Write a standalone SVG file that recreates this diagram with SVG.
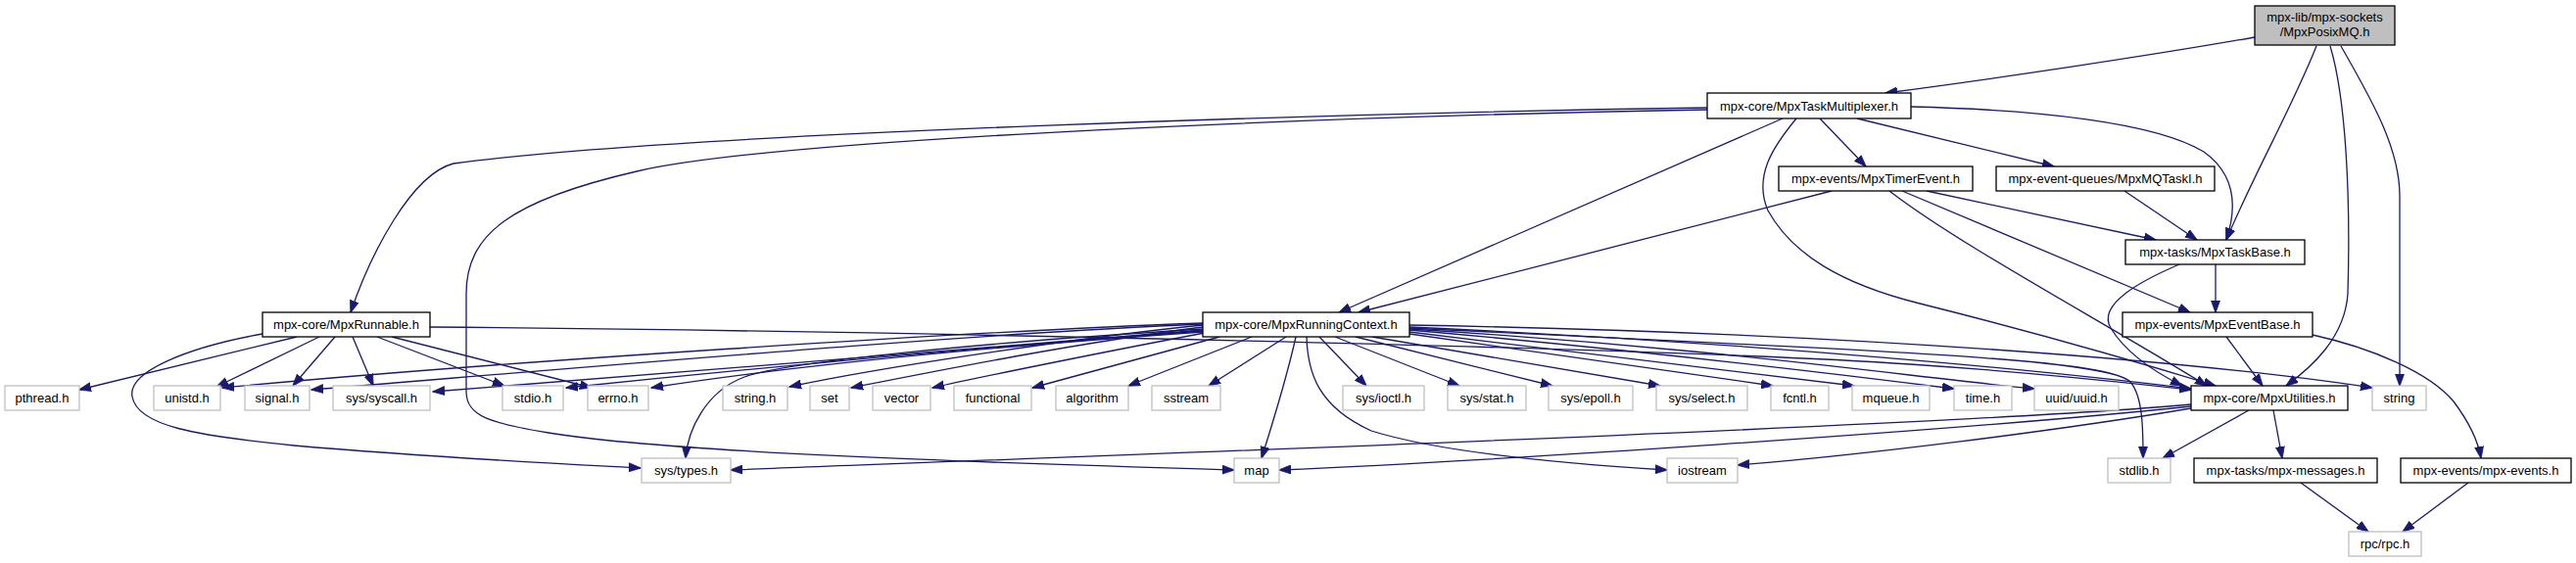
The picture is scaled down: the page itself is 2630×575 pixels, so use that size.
<svg xmlns="http://www.w3.org/2000/svg" width="2630" height="575" viewBox="0 0 2630 575">
<style>
text{font-family:"Liberation Sans",Arial,sans-serif;font-size:13px;fill:#000;text-anchor:middle}
.n rect{fill:#fff;stroke:#000;stroke-width:1.3}
.x rect{fill:#fff;stroke:#bfbfbf;stroke-width:1.3}
.r rect{fill:#bfbfbf;stroke:#000;stroke-width:1.3}
#edges path{fill:none;stroke:#191970;stroke-width:1.3;marker-end:url(#ah)}
</style>
<defs>
<marker id="ah" markerUnits="userSpaceOnUse" markerWidth="13" markerHeight="10" viewBox="0 0 13 10" refX="12" refY="5" orient="auto">
<path d="M0,0.5 L12.5,5 L0,9.5 z" fill="#191970" stroke="#191970" stroke-width="0.8"/>
</marker>
</defs>
<rect width="2630" height="575" fill="#fff"/>
<g id="edges">
<!-- root -->
<path d="M2302,38 C2200,56 2040,80 1925,95"/>
<path d="M2365,47 C2340,110 2300,180 2273,245"/>
<path d="M2379,47 C2395,100 2400,200 2397,300 C2394,345 2360,375 2334,394"/>
<path d="M2390,47 C2420,100 2450,150 2450,200 L2450,394"/>
<!-- task multiplexer -->
<path d="M1743,110 C1400,115 700,135 463,167 C420,178 378,260 358,319"/>
<path d="M1743,112 C1400,118 800,140 650,175 C520,205 476,240 476,300 L476,400 C476,425 500,432 560,442 C700,465 1100,475 1260,480"/>
<path d="M1820,121 L1367,319"/>
<path d="M1858,121 L1905,170"/>
<path d="M1896,121 L2097,170"/>
<path d="M1951,109 C2080,112 2200,125 2250,155 C2285,180 2283,215 2273,245"/>
<path d="M1834,121 C1810,150 1790,180 1805,215 C1830,260 1880,290 1960,310 C2100,345 2200,375 2262,394"/>
<!-- timer event -->
<path d="M1870,195 L1387,319"/>
<path d="M1967,195 L2201,245"/>
<path d="M1942,195 L2236,319"/>
<path d="M1929,195 C2000,250 2150,330 2253,394"/>
<!-- mq task -->
<path d="M2169,195 L2243,245"/>
<!-- task base -->
<path d="M2262,270 L2262,319"/>
<path d="M2225,270 C2190,285 2140,310 2155,335 C2170,360 2200,380 2228,394"/>
<!-- event base -->
<path d="M2273,344 L2310,394"/>
<path d="M2361,342 C2420,355 2480,380 2505,410 C2520,430 2530,450 2533,468"/>
<!-- utilities -->
<path d="M2296,419 L2208,468"/>
<path d="M2321,419 L2330,468"/>
<path d="M2237,413 C2000,435 1000,470 746,480"/>
<path d="M2237,415 C2000,440 1500,472 1306,480"/>
<path d="M2237,417 C2100,440 1900,465 1774,475"/>
<!-- messages/events -->
<path d="M2349,493 L2418,543"/>
<path d="M2520,493 L2453,543"/>
<!-- runnable -->
<path d="M303,344 L81,398"/>
<path d="M326,344 L221,395"/>
<path d="M342,344 L299,394"/>
<path d="M360,344 L381,394"/>
<path d="M385,344 L515,394"/>
<path d="M400,344 L604,396"/>
<path d="M268,341 C190,355 130,380 135,405 C140,435 200,445 300,455 C450,468 600,475 654,478"/>
<path d="M439,334 C900,338 1700,355 1950,372 C2100,382 2180,392 2237,398"/>
<!-- running context -->
<path d="M1228,330 C1000,338 500,370 227,396"/>
<path d="M1228,331 C1000,340 600,375 318,398"/>
<path d="M1228,337 C1000,355 700,380 442,400"/>
<path d="M1228,338 C1000,355 750,378 578,396"/>
<path d="M1228,339 C1000,355 800,375 665,396"/>
<path d="M1228,332 C1100,345 900,375 806,395"/>
<path d="M1228,334 C1100,350 950,380 869,396"/>
<path d="M1230,340 C1150,355 1000,385 952,396"/>
<path d="M1245,344 L1054,396"/>
<path d="M1278,344 L1152,394"/>
<path d="M1313,344 L1234,394"/>
<path d="M1228,336 C1000,350 800,370 760,385 C720,400 702,440 700,468"/>
<path d="M1323,344 C1315,380 1300,430 1288,468"/>
<path d="M1334,344 C1335,380 1345,415 1400,440 C1480,465 1620,475 1702,480"/>
<path d="M1347,344 L1395,394"/>
<path d="M1363,344 L1490,394"/>
<path d="M1384,344 L1585,394"/>
<path d="M1401,344 L1695,394"/>
<path d="M1439,341 L1810,394"/>
<path d="M1439,339 L1893,394"/>
<path d="M1439,337 C1700,360 1900,385 1995,397"/>
<path d="M1439,336 C1750,355 1950,385 2077,397"/>
<path d="M1439,334 C1800,350 2100,380 2237,397"/>
<path d="M1439,332 C1900,340 2250,370 2422,396"/>
<path d="M1439,335 C1900,358 2150,365 2175,390 C2188,405 2188,440 2188,468"/>
</g>
<g id="root" class="r"><rect x="2302" y="6" width="143" height="40"/><text x="2373.5" y="22">mpx-lib/mpx-sockets</text><text x="2373.5" y="37">/MpxPosixMQ.h</text></g>
<g id="taskmux" class="n"><rect x="1743" y="95" width="208" height="26"/><text x="1847" y="113">mpx-core/MpxTaskMultiplexer.h</text></g>
<g id="timerevent" class="n"><rect x="1816" y="170" width="198" height="25"/><text x="1915" y="187">mpx-events/MpxTimerEvent.h</text></g>
<g id="mqtaski" class="n"><rect x="2038" y="170" width="223" height="25"/><text x="2149.5" y="187">mpx-event-queues/MpxMQTaskI.h</text></g>
<g id="taskbase" class="n"><rect x="2170" y="245" width="183" height="25"/><text x="2261.5" y="262">mpx-tasks/MpxTaskBase.h</text></g>
<g id="runnable" class="n"><rect x="268" y="319" width="171" height="25"/><text x="353.5" y="336">mpx-core/MpxRunnable.h</text></g>
<g id="runningcontext" class="n"><rect x="1228" y="319" width="211" height="25"/><text x="1333.5" y="336">mpx-core/MpxRunningContext.h</text></g>
<g id="eventbase" class="n"><rect x="2167" y="319" width="194" height="25"/><text x="2264" y="336">mpx-events/MpxEventBase.h</text></g>
<g id="pthread" class="x"><rect x="5" y="394" width="76" height="25"/><text x="43" y="411">pthread.h</text></g>
<g id="unistd" class="x"><rect x="157" y="394" width="68" height="25"/><text x="191" y="411">unistd.h</text></g>
<g id="signal" class="x"><rect x="250" y="394" width="66" height="25"/><text x="283" y="411">signal.h</text></g>
<g id="syscall" class="x"><rect x="340" y="394" width="99" height="25"/><text x="389.5" y="411">sys/syscall.h</text></g>
<g id="stdio" class="x"><rect x="513" y="394" width="62" height="25"/><text x="544" y="411">stdio.h</text></g>
<g id="errno" class="x"><rect x="600" y="394" width="62" height="25"/><text x="631" y="411">errno.h</text></g>
<g id="stringh" class="x"><rect x="738" y="394" width="66" height="25"/><text x="771" y="411">string.h</text></g>
<g id="set" class="x"><rect x="827" y="394" width="40" height="25"/><text x="847" y="411">set</text></g>
<g id="vector" class="x"><rect x="891" y="394" width="59" height="25"/><text x="920.5" y="411">vector</text></g>
<g id="functional" class="x"><rect x="974" y="394" width="79" height="25"/><text x="1013.5" y="411">functional</text></g>
<g id="algorithm" class="x"><rect x="1078" y="394" width="74" height="25"/><text x="1115" y="411">algorithm</text></g>
<g id="sstream" class="x"><rect x="1176" y="394" width="70" height="25"/><text x="1211" y="411">sstream</text></g>
<g id="ioctl" class="x"><rect x="1371" y="394" width="83" height="25"/><text x="1412.5" y="411">sys/ioctl.h</text></g>
<g id="stat" class="x"><rect x="1478" y="394" width="80" height="25"/><text x="1518" y="411">sys/stat.h</text></g>
<g id="epoll" class="x"><rect x="1581" y="394" width="86" height="25"/><text x="1624" y="411">sys/epoll.h</text></g>
<g id="select" class="x"><rect x="1691" y="394" width="93" height="25"/><text x="1737.5" y="411">sys/select.h</text></g>
<g id="fcntl" class="x"><rect x="1808" y="394" width="59" height="25"/><text x="1837.5" y="411">fcntl.h</text></g>
<g id="mqueue" class="x"><rect x="1891" y="394" width="79" height="25"/><text x="1930.5" y="411">mqueue.h</text></g>
<g id="time" class="x"><rect x="1995" y="394" width="59" height="25"/><text x="2024.5" y="411">time.h</text></g>
<g id="uuid" class="x"><rect x="2077" y="394" width="86" height="25"/><text x="2120" y="411">uuid/uuid.h</text></g>
<g id="utilities" class="n"><rect x="2237" y="394" width="160" height="25"/><text x="2317" y="411">mpx-core/MpxUtilities.h</text></g>
<g id="string" class="x"><rect x="2422" y="394" width="55" height="25"/><text x="2449.5" y="411">string</text></g>
<g id="systypes" class="x"><rect x="655" y="468" width="91" height="25"/><text x="700.5" y="485">sys/types.h</text></g>
<g id="map" class="x"><rect x="1260" y="468" width="46" height="25"/><text x="1283" y="485">map</text></g>
<g id="iostream" class="x"><rect x="1702" y="468" width="72" height="25"/><text x="1738" y="485">iostream</text></g>
<g id="stdlib" class="x"><rect x="2152" y="468" width="64" height="25"/><text x="2184" y="485">stdlib.h</text></g>
<g id="messages" class="n"><rect x="2240" y="468" width="187" height="25"/><text x="2333.5" y="485">mpx-tasks/mpx-messages.h</text></g>
<g id="events" class="n"><rect x="2451" y="468" width="174" height="25"/><text x="2538" y="485">mpx-events/mpx-events.h</text></g>
<g id="rpc" class="x"><rect x="2398" y="543" width="74" height="25"/><text x="2435" y="560">rpc/rpc.h</text></g>
</svg>
